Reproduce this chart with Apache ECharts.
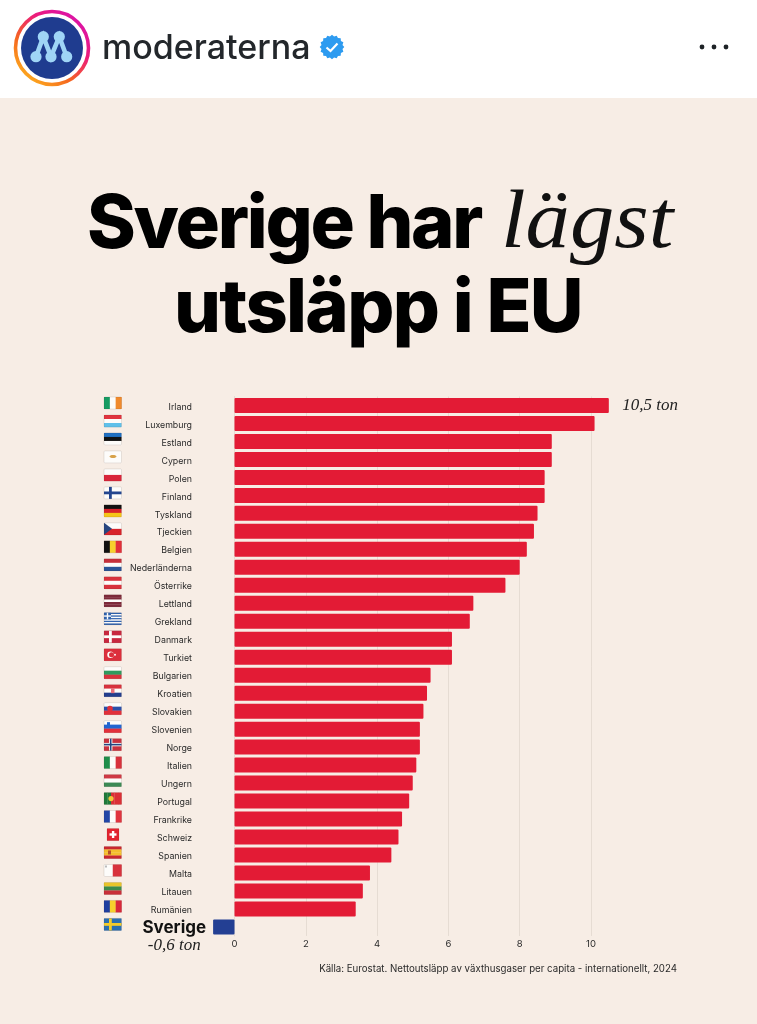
<!DOCTYPE html>
<html><head><meta charset="utf-8">
<style>html,body{margin:0;padding:0;background:#F7EDE5}#c{width:757px;height:1024px}</style>
<script src="https://cdn.jsdelivr.net/npm/echarts@6/dist/echarts.min.js"></script>
</head><body><div id="c"></div>
<script>
const countries = ['Irland','Luxemburg','Estland','Cypern','Polen','Finland','Tyskland','Tjeckien','Belgien','Nederländerna','Österrike','Lettland','Grekland','Danmark','Turkiet','Bulgarien','Kroatien','Slovakien','Slovenien','Norge','Italien','Ungern','Portugal','Frankrike','Schweiz','Spanien','Malta','Litauen','Rumänien','Sverige'];
const emissions = [10.5,10.1,8.9,8.9,8.7,8.7,8.5,8.4,8.2,8.0,7.6,6.7,6.6,6.1,6.1,5.5,5.4,5.3,5.2,5.2,5.1,5.0,4.9,4.7,4.6,4.4,3.8,3.6,3.4,-0.6];
const xTicks = [0,2,4,6,8,10];
const W='#FDFCFA';
const flagStripes = [
 ['v','#169B62',W,'#F08A2C'],['h','#E0343F',W,'#5FC0EA'],['h','#1F6FC0','#111',W],[ 'h',W],['h',W,'#D9263B'],['h',W],
 ['h','#111','#D8232A','#F5C518'],['h',W,'#D8232A'],['v','#111','#F7D02C','#E2303A'],['h','#C5303B',W,'#2A5597'],['h','#D8323D',W,'#D8323D'],['h','#7E2A3A','#7E2A3A',W,'#7E2A3A','#7E2A3A'],
 ['h','#2F62AE',W,'#2F62AE',W,'#2F62AE',W,'#2F62AE',W,'#2F62AE'],['h','#C8283F'],['h','#DC2F3C'],['h',W,'#2E9A5E','#D8323D'],['h','#D8323D',W,'#233E8E'],['h',W,'#2A4FA8','#E2303A'],['h',W,'#2266D0','#E2303A'],['h','#C8323F'],
 ['v','#1F8E4A',W,'#D8323D'],['h','#CF3A45',W,'#3C8A55'],['v','#1F7A3A','#1F7A3A','#DB2F35','#DB2F35','#DB2F35'],['v','#2346A6',W,'#E0343F'],['h','#E2232F'],['h','#C9272F','#F4BE2C','#F4BE2C','#C9272F'],['v',W,'#D8323D'],['h','#E9C42A','#3C8A4C','#C9303A'],['v','#1F3FA0','#F6D02C','#D8283A'],['h','#2A6FB0']
];
const flagCrosses = {5:'#23468F',13:W,19:W,24:'#FFF',29:'#F3CB2A'};
const flagInner = {19:'#27457F'};
const RED='#E31B35', BLUE='#233F93', TXT='#2A2A2A';
const SANS='Inter, "Noto Sans", sans-serif', SERIF='"Liberation Serif", serif';

// Tight headline tracking: the canvas text API has it, ECharts does not expose it.
const titleSpacing={'Sverige har':'-2.3px','utsläpp i EU':'-1.7px'};
const origFill=CanvasRenderingContext2D.prototype.fillText;
CanvasRenderingContext2D.prototype.fillText=function(t,x,y,m){
  if(titleSpacing[t]){this.letterSpacing=titleSpacing[t];origFill.call(this,t,x,y);this.letterSpacing='0px';return;}
  return m===undefined?origFill.call(this,t,x,y):origFill.call(this,t,x,y,m);
};

function renderFlag(params, api){
  const i = api.value(1), f = flagStripes[i];
  const cy = api.coord([0,i])[1]-2.5;
  const x0=104, w=i===24?12:17.5, h=12, xs=i===24?107:x0, y0=cy-h/2;
  const ch=[];
  const parts=f.length-1;
  for(let k=0;k<parts;k++){
    ch.push({type:'rect',shape:f[0]==='h'?{x:xs,y:y0+h*k/parts,width:w,height:h/parts+0.2}:{x:xs+w*k/parts,y:y0,width:w/parts+0.2,height:h},style:{fill:f[k+1]}});
  }
  if(flagCrosses[i]){
    const c=flagCrosses[i];
    if(i===24){
      ch.push({type:'rect',shape:{x:xs+4.9,y:y0+2.5,width:2.4,height:7},style:{fill:c}},{type:'rect',shape:{x:xs+2.5,y:y0+4.8,width:7,height:2.4},style:{fill:c}});
    } else {
      const t=i===19?3.4:2.8;
      ch.push({type:'rect',shape:{x:xs+5,y:y0,width:t,height:h},style:{fill:c}},{type:'rect',shape:{x:xs,y:cy-t/2,width:w,height:t},style:{fill:c}});
      if(flagInner[i]) ch.push({type:'rect',shape:{x:xs+5.9,y:y0,width:1.6,height:h},style:{fill:flagInner[i]}},{type:'rect',shape:{x:xs,y:cy-0.8,width:w,height:1.6},style:{fill:flagInner[i]}});
    }
  }
  if(i===3) ch.push({type:'ellipse',shape:{cx:xs+9,cy:cy-0.5,rx:3.5,ry:1.5},style:{fill:'#D8A24A'}});
  if(i===7) ch.push({type:'polygon',shape:{points:[[xs,y0],[xs+8,cy],[xs,y0+h]]},style:{fill:'#27457F'}});
  if(i===12) ch.push({type:'rect',shape:{x:xs,y:y0,width:7,height:6.6},style:{fill:'#2F62AE'}},{type:'rect',shape:{x:xs+2.8,y:y0,width:1.4,height:6.6},style:{fill:W}},{type:'rect',shape:{x:xs,y:y0+2.6,width:7,height:1.4},style:{fill:W}});
  if(i===14) ch.push({type:'circle',shape:{cx:xs+6.5,cy:cy,r:3.2},style:{fill:W}},{type:'circle',shape:{cx:xs+7.5,cy:cy,r:2.5},style:{fill:'#DC2F3C'}},{type:'circle',shape:{cx:xs+11,cy:cy,r:1},style:{fill:W}});
  if(i===16) ch.push({type:'rect',shape:{x:xs+7,y:cy-2.5,width:3.5,height:5},style:{fill:'#E8707A'}});
  if(i===17) ch.push({type:'circle',shape:{cx:xs+6,cy:cy,r:2.8},style:{fill:'#E2303A'}});
  if(i===18) ch.push({type:'rect',shape:{x:xs+3,y:y0+1.5,width:3,height:3.5},style:{fill:'#2266D0'}});
  if(i===22) ch.push({type:'circle',shape:{cx:xs+7,cy:cy,r:2.6},style:{fill:'#F2C53A'}});
  if(i===25) ch.push({type:'rect',shape:{x:xs+4,y:cy-2,width:3,height:4},style:{fill:'#B5502A'}});
  if(i===26) ch.push({type:'rect',shape:{x:xs+1,y:y0+1,width:2,height:2},style:{fill:'#BBB'}});
  ch.push({type:'rect',shape:{x:xs,y:y0,width:w,height:h,r:1},style:{fill:'none',stroke:'rgba(60,40,30,0.16)',lineWidth:0.7}});
  return {type:'group',children:ch};
}

const badge=[];
for(let k=0;k<32;k++){const r=k%2?10.7:12.3,a=k*Math.PI/16;badge.push([332+r*Math.cos(a),47+r*Math.sin(a)]);}

const chart=echarts.init(document.getElementById('c'),null,{width:757,height:1024});
chart.setOption({
 animation:false,
 backgroundColor:'#F7EDE5',
 textStyle:{fontFamily:SANS},
 grid:{left:163.2,width:499.1,top:396.5,height:539.4,containLabel:false},
 xAxis:{type:'value',min:-2,max:12,interval:2,position:'bottom',
  axisLine:{show:false},axisTick:{show:false},
  splitLine:{show:true,showMinLine:false,showMaxLine:false,lineStyle:{color:'#E6DCD3',width:1}},
  axisLabel:{fontSize:9.5,color:TXT,margin:3,fontFamily:SANS,formatter:v=>xTicks.includes(v)?String(v):''}},
 yAxis:{type:'category',inverse:true,data:countries,
  axisLine:{show:true,onZero:true,lineStyle:{color:'#E6DCD3'}},axisTick:{show:false},
  axisLabel:{color:TXT,margin:-28.8,fontFamily:SANS,formatter:v=>v==='Sverige'?'':'{a|'+v+'}',
    rich:{a:{fontSize:8.8,color:TXT,fontFamily:SANS,padding:[3,0,0,0]}}}},
 series:[
  {type:'bar',barWidth:15,data:emissions.map((v,i)=>{
     const d={value:v,itemStyle:{color:v<0?BLUE:RED,borderRadius:1}};
     if(i===0) d.label={show:true,position:'right',distance:13.5,formatter:'10,5 ton',fontFamily:SERIF,fontStyle:'italic',fontSize:17,color:'#222'};
     if(v<0) d.label={show:true,position:'left',distance:7,offset:[0,9.5],formatter:'{a|Sverige}\n{b|-0,6 ton}',
       rich:{a:{fontFamily:SANS,fontWeight:700,fontSize:17,color:'#111',lineHeight:18,align:'center'},b:{fontFamily:SERIF,fontStyle:'italic',fontSize:17,color:'#222',lineHeight:18,align:'center'}}};
     return d;})},
  {type:'custom',renderItem:renderFlag,clip:false,silent:true,encode:{x:0,y:1},data:countries.map((c,i)=>[0,i])}
 ],
 graphic:[
  {type:'rect',z:-1,shape:{x:0,y:0,width:757,height:98},style:{fill:'#FFFFFF'}},
  {type:'circle',shape:{cx:52,cy:48,r:36.5},style:{fill:'#fff',lineWidth:3.6,stroke:new echarts.graphic.LinearGradient(0.1,1,0.9,0,[{offset:0,color:'#FFC11E'},{offset:0.35,color:'#F5661F'},{offset:0.65,color:'#EC1C7A'},{offset:1,color:'#D510B8'}])}},
  {type:'circle',shape:{cx:52,cy:48,r:31},style:{fill:'#1F3C8F'}},
  {type:'polyline',shape:{points:[[36,56.7],[43.3,36.7],[51,56.7],[59.3,36.7],[66.7,56.7]]},style:{stroke:'#9FD5F6',lineWidth:4.6,fill:null}},
  ...[[43.3,36.7],[59.3,36.7],[36,56.7],[51,56.7],[66.7,56.7]].map(p=>({type:'circle',shape:{cx:p[0],cy:p[1],r:5.6},style:{fill:'#9FD5F6'}})),
  {type:'text',x:102,y:66,style:{text:'moderaterna',fontFamily:SANS,fontWeight:500,fontSize:34,fill:'#23272B',verticalAlign:'bottom'}},
  {type:'polygon',shape:{points:badge},style:{fill:'#2D9BF0'}},
  {type:'polyline',shape:{points:[[326.5,47.5],[330.5,51],[337.5,43.5]]},style:{stroke:'#fff',lineWidth:2.2,fill:null}},
  ...[702,714,726].map(x=>({type:'circle',shape:{cx:x,cy:47,r:2.4},style:{fill:'#1E2226'}})),
  {type:'text',x:87,y:189,style:{text:'Sverige har',fontFamily:SANS,fontWeight:800,fontSize:74,fill:'#000'}},
  {type:'text',x:501,y:184,scaleX:1.08,style:{text:'lägst',fontFamily:SERIF,fontStyle:'italic',fontSize:82,fill:'#111'}},
  {type:'text',x:174,y:273,style:{text:'utsläpp i EU',fontFamily:SANS,fontWeight:800,fontSize:74,fill:'#000'}},
  {type:'text',x:677,y:969,style:{text:'Källa: Eurostat. Nettoutsläpp av växthusgaser per capita - internationellt, 2024',align:'right',verticalAlign:'middle',fontFamily:SANS,fontSize:9.7,fill:TXT}}
 ]
});
</script></body></html>
